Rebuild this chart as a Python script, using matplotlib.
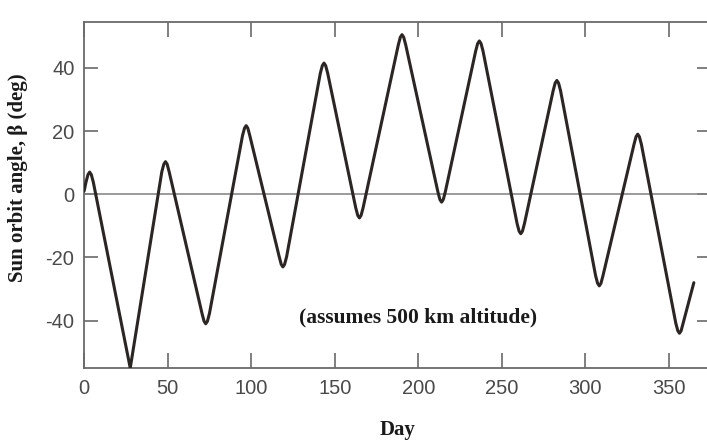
import matplotlib
matplotlib.use("Agg")
import matplotlib.pyplot as plt

# Values (day, sun orbit angle in degrees),
# with a few points around each turning point to follow its rounded shape
day = [0,
       1.1, 2.3, 3.3, 4.3, 5.5,
       27.6,
       46.5, 47.7, 48.7, 49.7, 50.9,
       70.6, 71.8, 72.8, 73.8, 75.0,
       94.8, 96.0, 97.0, 98.0, 99.2,
       116.8, 118.0, 119.0, 120.0, 121.2,
       141.4, 142.6, 143.6, 144.6, 145.8,
       162.6, 163.8, 164.8, 165.8, 167.0,
       188.1, 189.3, 190.3, 191.3, 192.5,
       211.8, 213.0, 214.0, 215.0, 216.2,
       234.4, 235.6, 236.6, 237.6, 238.8,
       259.2, 260.4, 261.4, 262.4, 263.6,
       280.8, 282.0, 283.0, 284.0, 285.2,
       306.2, 307.4, 308.4, 309.4, 310.6,
       329.2, 330.4, 331.4, 332.4, 333.6,
       354.2, 355.4, 356.4, 357.4, 358.6,
       365]
beta = [1,
        3.8, 6.2, 7.0, 6.2, 3.8,
        -55,
        7.1, 9.5, 10.3, 9.5, 7.1,
        -37.8, -40.2, -41, -40.2, -37.8,
        18.5, 20.9, 21.7, 20.9, 18.5,
        -19.8, -22.2, -23, -22.2, -19.8,
        38.3, 40.7, 41.5, 40.7, 38.3,
        -4.3, -6.7, -7.5, -6.7, -4.3,
        47.3, 49.7, 50.5, 49.7, 47.3,
        0.7, -1.7, -2.5, -1.7, 0.7,
        45.3, 47.7, 48.5, 47.7, 45.3,
        -9.3, -11.7, -12.5, -11.7, -9.3,
        32.8, 35.2, 36, 35.2, 32.8,
        -25.8, -28.2, -29, -28.2, -25.8,
        15.8, 18.2, 19, 18.2, 15.8,
        -40.8, -43.2, -44, -43.2, -40.8,
        -28]

xticks = [0, 50, 100, 150, 200, 250, 300, 350]
yticks = [-40, -20, 0, 20, 40]

plt.rcParams['axes.unicode_minus'] = False

fig = plt.figure(figsize=(7.07, 4.41), dpi=100)
ax = fig.add_axes([0.119, 0.1655, 0.886, 0.7846])

ax.plot(day, beta, color='#2b2623', lw=2.2, solid_joinstyle='round',
        solid_capstyle='round', zorder=3)
ax.axhline(0, color='#808080', lw=1.1, zorder=2)

ax.set_xlim(0, 375)
ax.set_ylim(-55, 54.5)
ax.set_xticks(xticks)
ax.set_yticks(yticks)

spine_col = '#6a6a6a'
for s in ['left', 'bottom', 'top']:
    ax.spines[s].set_color(spine_col)
    ax.spines[s].set_linewidth(1.3)
ax.spines['right'].set_visible(False)

ax.tick_params(axis='x', direction='in', length=11, width=1.2, color=spine_col,
               top=True, bottom=True, labelsize=14.5, labelcolor='#4a4a4a', pad=8)
ax.tick_params(axis='y', direction='in', length=10, width=1.2, color=spine_col,
               left=True, right=True, labelsize=14.5, labelcolor='#4a4a4a', pad=7)
for lab in ax.get_xticklabels() + ax.get_yticklabels():
    lab.set_family('Liberation Sans')

ax.set_xlabel('Day', family='Liberation Serif', fontweight='bold', fontsize=15,
              color='#1a1a1a')
ax.xaxis.set_label_coords(0.5, -0.15)
ax.set_ylabel('Sun orbit angle, \u03b2 (deg)', family='Liberation Serif',
              fontweight='bold', fontsize=15, color='#1a1a1a')
ax.yaxis.set_label_coords(-0.09, 0.55)

ax.text(200, -39, '(assumes 500 km altitude)', family='Liberation Serif',
        fontweight='bold', fontsize=15.5, color='#1a1a1a', ha='center', va='center')

fig.savefig('out.png', dpi=100)
